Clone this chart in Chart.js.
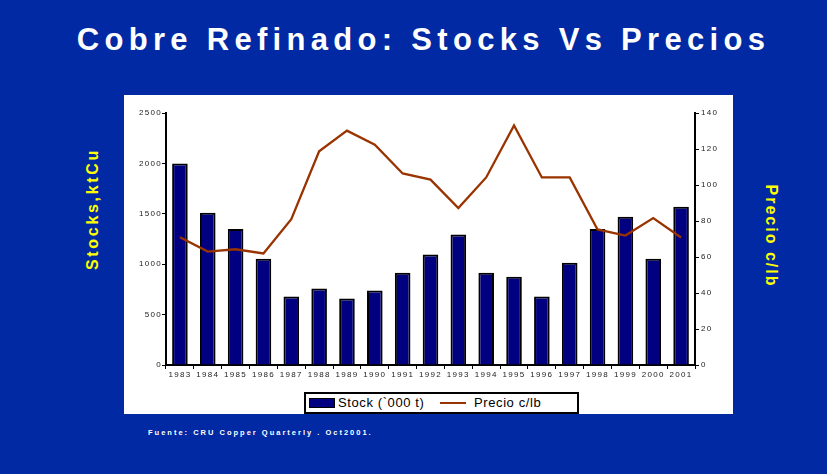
<!DOCTYPE html>
<html>
<head>
<meta charset="utf-8">
<script src="https://cdn.jsdelivr.net/npm/chart.js@4.4.0/dist/chart.umd.min.js"></script>
<style>
  html, body { margin: 0; padding: 0; }
  body { width: 827px; height: 474px; background: #0029a3; position: relative; overflow: hidden; font-family: "Liberation Sans", Arial, sans-serif; }
  #title { position: absolute; left: 0; width: 847px; top: 22px; text-align: center; color: #fff; font-weight: bold; font-size: 31px; letter-spacing: 5.3px; }
  #panel { position: absolute; left: 124px; top: 95px; width: 609px; height: 319px; background: #fff; }
  #leftTitle, #rightTitle { position: absolute; color: #ffff00; font-weight: bold; font-size: 16px; white-space: nowrap; }
  #leftTitle { left: 93px; top: 209px; letter-spacing: 2.7px; transform: translate(-50%, -50%) rotate(-90deg); }
  #rightTitle { left: 771px; top: 236px; letter-spacing: 2px; transform: translate(-50%, -50%) rotate(90deg); }
  #legend { position: absolute; left: 304px; top: 392px; width: 271px; height: 18px; border: 2px solid #000; background: #fff; font-size: 13px; color: #000; letter-spacing: 0.6px; }
  #legend .sw { position: absolute; left: 3px; top: 4px; width: 24px; height: 8px; background: #000080; border: 1px solid #000; }
  #legend .t1 { position: absolute; left: 32px; top: 1px; }
  #legend .l2 { position: absolute; left: 134px; top: 8px; width: 26px; height: 2px; background: #993300; }
  #legend .t2 { position: absolute; left: 168px; top: 1px; }
  #foot { position: absolute; left: 148px; top: 428px; color: #fff; font-weight: bold; font-size: 7.5px; letter-spacing: 2px; }
</style>
</head>
<body>
<div id="title">Cobre Refinado: Stocks Vs Precios</div>
<div id="leftTitle">Stocks,ktCu</div>
<div id="rightTitle">Precio c/lb</div>
<div id="panel"><canvas id="myChart" width="609" height="319"></canvas></div>
<div id="legend"><div class="sw"></div><span class="t1">Stock (`000 t)</span><div class="l2"></div><span class="t2">Precio c/lb</span></div>
<div id="foot">Fuente: CRU Copper Quarterly . Oct2001.</div>
<script>
// data
const years = ['1983', '1984', '1985', '1986', '1987', '1988', '1989', '1990', '1991', '1992',
    '1993', '1994', '1995', '1996', '1997', '1998', '1999', '2000', '2001'];
const stocks = [2000, 1510, 1350, 1055, 680, 760, 660, 740, 915, 1095,
    1295, 915, 875, 680, 1015, 1350, 1470, 1055, 1570];
const precios = [71, 63, 64.3, 62, 81, 118.7, 130.2, 122.4, 106.4, 103,
    87.2, 104.2, 133.1, 104.2, 104.2, 75.3, 71.9, 81.6, 70.8];
const stockTicks = [0, 500, 1000, 1500, 2000, 2500];
const precioTicks = [0, 20, 40, 60, 80, 100, 120, 140];

// letter spacing for canvas text
const spacing = {
    id: 'spacing',
    beforeDraw(chart) { chart.ctx.letterSpacing = '1.3px'; }
};

const tickFont = { family: '"Liberation Sans", Arial, sans-serif', size: 8 };

const config = {
    data: {
        labels: years,
        datasets: [
            {
                type: 'line',
                label: 'Precio c/lb',
                data: precios,
                yAxisID: 'y1',
                borderColor: '#993300',
                borderWidth: 2.3,
                pointRadius: 0,
                tension: 0,
                order: 0
            },
            {
                type: 'bar',
                label: 'Stock (`000 t)',
                data: stocks,
                yAxisID: 'y',
                backgroundColor: '#000080',
                borderColor: '#000',
                borderWidth: 2,
                barPercentage: 0.56,
                categoryPercentage: 1,
                order: 1
            }
        ]
    },
    options: {
        responsive: false,
        animation: false,
        layout: { padding: { top: 18, left: 0, right: 0, bottom: 0 } },
        plugins: {
            legend: { display: false },
            tooltip: { enabled: false }
        },
        scales: {
            x: {
                offset: true,
                grid: { display: true, drawOnChartArea: false, drawTicks: true, tickLength: 4, color: '#000', offset: true },
                border: { display: true, color: '#000', width: 2 },
                ticks: { color: '#222', font: tickFont, maxRotation: 0, autoSkip: false, padding: 1 },
                afterFit(scale) { scale.height = 49; }
            },
            y: {
                position: 'left',
                min: 0,
                max: 2500,
                afterBuildTicks(scale) { scale.ticks = stockTicks.map(v => ({ value: v })); },
                grid: { drawOnChartArea: false, tickLength: 4, color: '#000' },
                border: { display: true, color: '#000', width: 2 },
                ticks: { color: '#222', font: tickFont, padding: 0, callback: v => String(v) },
                afterFit(scale) { scale.width = 42; }
            },
            y1: {
                position: 'right',
                min: 0,
                max: 140,
                afterBuildTicks(scale) { scale.ticks = precioTicks.map(v => ({ value: v })); },
                grid: { drawOnChartArea: false, tickLength: 4, color: '#000' },
                border: { display: true, color: '#000', width: 2 },
                ticks: { color: '#222', font: tickFont, padding: 2, callback: v => String(v) },
                afterFit(scale) { scale.width = 38; }
            }
        }
    },
    plugins: [spacing]
};

const myChart = new Chart(document.getElementById('myChart'), config);
</script>
</body>
</html>
